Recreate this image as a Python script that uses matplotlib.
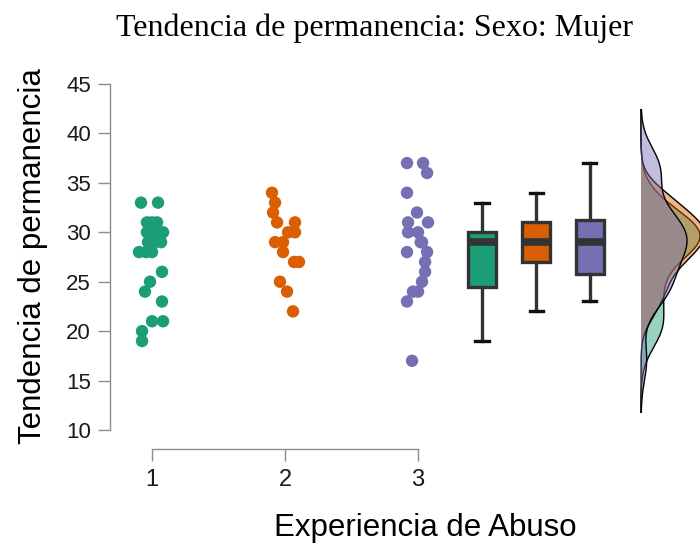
import numpy as np
import matplotlib
matplotlib.use('Agg')
import matplotlib.pyplot as plt

# values
abuso_1 = [33, 33, 31, 31, 31, 30, 30, 30, 30, 29, 29, 29, 28, 28, 28, 26, 25, 24, 23, 21, 21, 20, 19]
abuso_2 = [34, 33, 32, 31, 31, 30, 30, 29, 29, 28, 27, 27, 25, 24, 22]
abuso_3 = [37, 37, 36, 34, 32, 31, 31, 30, 30, 29, 29, 28, 28, 27, 26, 25, 24, 24, 23, 17]

# horizontal jitter of each dot, as seen in the picture
jit_1 = [-0.083, 0.045, -0.038, 0.038, 0.0, -0.038, 0.083, 0.02, 0.0, -0.03, 0.068, 0.02,
         -0.098, -0.045, 0.0, 0.075, -0.015, -0.053, 0.075, 0.0, 0.083, -0.075, -0.075]
jit_2 = [-0.098, -0.075, -0.09, -0.06, 0.075, 0.023, 0.075, -0.075, -0.015, -0.015,
         0.068, 0.105, -0.038, 0.015, 0.06]
jit_3 = [-0.083, 0.038, 0.068, -0.083, -0.008, -0.075, 0.075, -0.075, 0.0, 0.03, 0.02,
         -0.083, 0.068, 0.053, 0.053, 0.03, 0.0, -0.038, -0.083, -0.045]

groups = ['1', '2', '3']
yticks = [10, 15, 20, 25, 30, 35, 40, 45]
colors = ['#1b9e77', '#d95f02', '#7570b3']

data = [abuso_1, abuso_2, abuso_3]
jits = [jit_1, jit_2, jit_3]

plt.rcParams['font.family'] = ['Liberation Sans', 'DejaVu Sans']

fig = plt.figure(figsize=(7.0, 5.47), dpi=100)
ax = fig.add_axes([110/700, 1 - 430/547, 590/700, 346/547])

# points
for i, (vals, jit) in enumerate(zip(data, jits)):
    xs = np.full(len(vals), i + 1.0) + np.array(jit)
    ax.scatter(xs, vals, s=80, color=colors[i], edgecolors='none', zorder=3, clip_on=False)

# boxes
box_pos = [3.48, 3.89, 4.29]
bp = ax.boxplot(data, positions=box_pos, widths=0.21, patch_artist=True, showfliers=False,
                capwidths=0.1, manage_ticks=False,
                boxprops=dict(edgecolor='#333333', linewidth=2.4),
                whiskerprops=dict(color='#333333', linewidth=2.4),
                capprops=dict(color='#111111', linewidth=2.4),
                medianprops=dict(color='#333333', linewidth=5.5))
for patch, c in zip(bp['boxes'], colors):
    patch.set_facecolor(c)

# densities on a shared range
def kde(vals, grid):
    v = np.asarray(vals, float)
    n = len(v)
    iqr = np.subtract(*np.percentile(v, [75, 25]))
    bw = 0.9 * min(v.std(ddof=1), iqr / 1.34) * n ** -0.2
    return np.exp(-0.5 * ((grid[:, None] - v[None, :]) / bw) ** 2).sum(1) / (n * bw * np.sqrt(2 * np.pi))

grid = np.linspace(11.8, 42.4, 400)
base = 4.677
scale = 4.2
for vals, c in zip(data, colors):
    d = kde(vals, grid)
    ax.fill_betweenx(grid, base, base + d * scale, facecolor=c, alpha=0.45, edgecolor='none', zorder=2)
    xs = np.concatenate([[base], base + d * scale, [base]])
    ys = np.concatenate([[grid[0]], grid, [grid[-1]]])
    ax.plot(xs, ys, color='black', linewidth=1.0, zorder=2)

ax.set_xlim(0.684, 5.12)
ax.set_ylim(10, 45)
ax.set_yticks(yticks)
ax.set_xticks([1, 2, 3])
ax.set_xticklabels(groups)

for s in ['top', 'right']:
    ax.spines[s].set_visible(False)
ax.spines['bottom'].set_position(('outward', 13.7))
ax.spines['bottom'].set_bounds(1, 3)
ax.spines['left'].set_bounds(10, 45)
for s in ['left', 'bottom']:
    ax.spines[s].set_color('#8c8c8c')
    ax.spines[s].set_linewidth(1.0)
ax.tick_params(axis='both', length=8.6, width=1.0, color='#8c8c8c', labelcolor='#1a1a1a', pad=5)
ax.tick_params(axis='y', labelsize=16)
ax.tick_params(axis='x', labelsize=17, pad=6)

fig.text(33/700, 1 - 256/547, 'Tendencia de permanencia', rotation=90, ha='center', va='center', fontsize=22.5)
fig.text(425/700, 1 - 528/547, 'Experiencia de Abuso', ha='center', va='center', fontsize=22.5)
fig.text(374/700, 1 - 28/547, 'Tendencia de permanencia: Sexo: Mujer', ha='center', va='center',
         fontsize=23, family=['Liberation Serif', 'DejaVu Serif'])

fig.savefig('out.png', dpi=100)
